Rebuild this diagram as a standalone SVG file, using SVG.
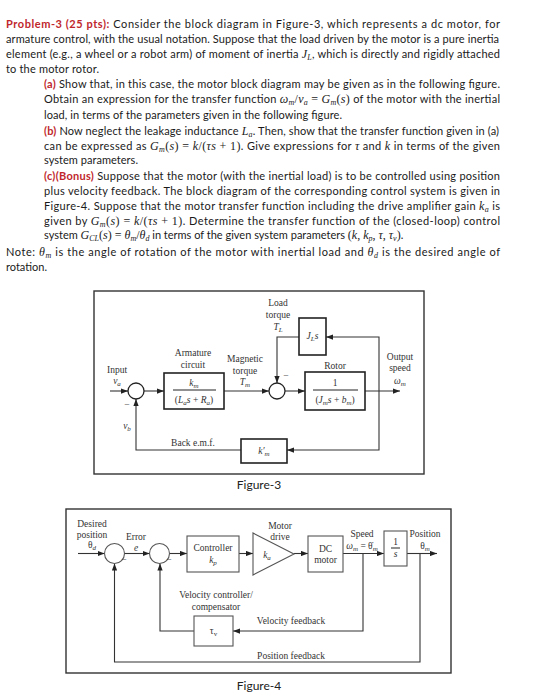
<svg xmlns="http://www.w3.org/2000/svg" width="536" height="700" viewBox="0 0 536 700">
<style>
.p{font-family:Lato,"Liberation Sans",sans-serif;font-size:11px;fill:#1a1a1a}
.r{fill:#c0272d;font-weight:bold}
.m{font-family:"Liberation Serif",serif;font-style:italic;font-size:12px}
.mu{font-family:"Liberation Serif",serif;font-style:normal;font-size:12px}
.sb{font-size:8px}
.d{font-family:"Liberation Serif",serif;font-size:9.5px;fill:#333;text-anchor:middle}
.ds{font-size:7px}
.i{font-style:italic}
.cap{font-family:Lato,"Liberation Sans",sans-serif;font-size:12px;fill:#222;text-anchor:middle}
.frame{fill:none;stroke:#333;stroke-width:1.4}
.b3{fill:#fff;stroke:#222;stroke-width:1.6}
.b4{fill:#fff;stroke:#555;stroke-width:1.1}
.c{fill:none;stroke:#333;stroke-width:1.1}
.ca{fill:none;stroke:#333;stroke-width:1.1;marker-end:url(#ah)}
.sum{fill:#fff;stroke:#222;stroke-width:1.3}
.bar{stroke:#222;stroke-width:1}
</style>
<defs>
<marker id="ah" viewBox="0 0 8 6" refX="8" refY="3" markerWidth="7" markerHeight="5.5" orient="auto" markerUnits="userSpaceOnUse"><path d="M0,0 L8,3 L0,6 z" fill="#222"/></marker>
</defs>
<rect width="536" height="700" fill="#fff"/>

<g id="problem-text" class="p">
<text x="6" y="28" textLength="494" lengthAdjust="spacing"><tspan class="r">Problem-3 (25 pts):</tspan> Consider the block diagram in Figure-3, which represents a dc motor, for</text>
<text x="6" y="43" textLength="493" lengthAdjust="spacing">armature control, with the usual notation. Suppose that the load driven by the motor is a pure inertia</text>
<text x="6" y="58" textLength="494" lengthAdjust="spacing">element (e.g., a wheel or a robot arm) of moment of inertia <tspan class="m">J</tspan><tspan class="m sb" dy="2">L</tspan><tspan dy="-2">, which is directly and rigidly attached</tspan></text>
<text x="6" y="73" textLength="93" lengthAdjust="spacing">to the motor rotor.</text>
<text x="44" y="88" textLength="456" lengthAdjust="spacing"><tspan class="r">(a)</tspan> Show that, in this case, the motor block diagram may be given as in the following figure.</text>
<text x="44" y="103" textLength="456" lengthAdjust="spacing">Obtain an expression for the transfer function <tspan class="m">ω</tspan><tspan class="m sb" dy="2">m</tspan><tspan class="mu" dy="-2">/</tspan><tspan class="m">v</tspan><tspan class="m sb" dy="2">a</tspan><tspan class="mu" dy="-2"> = </tspan><tspan class="m">G</tspan><tspan class="m sb" dy="2">m</tspan><tspan class="mu" dy="-2">(</tspan><tspan class="m">s</tspan><tspan class="mu">)</tspan> of the motor with the inertial</text>
<text x="44" y="119" textLength="298" lengthAdjust="spacing">load, in terms of the parameters given in the following figure.</text>
<text x="44" y="135" textLength="455" lengthAdjust="spacing"><tspan class="r">(b)</tspan> Now neglect the leakage inductance <tspan class="m">L</tspan><tspan class="m sb" dy="2">a</tspan><tspan dy="-2">. Then, show that the transfer function given in (a)</tspan></text>
<text x="44" y="150" textLength="456" lengthAdjust="spacing">can be expressed as <tspan class="m">G</tspan><tspan class="m sb" dy="2">m</tspan><tspan class="mu" dy="-2">(</tspan><tspan class="m">s</tspan><tspan class="mu">) = </tspan><tspan class="m">k</tspan><tspan class="mu">/(</tspan><tspan class="m">τs</tspan><tspan class="mu"> + 1)</tspan>. Give expressions for <tspan class="m">τ</tspan> and <tspan class="m">k</tspan> in terms of the given</text>
<text x="44" y="164" textLength="94" lengthAdjust="spacing">system parameters.</text>
<text x="44" y="180" textLength="456" lengthAdjust="spacing"><tspan class="r">(c)(Bonus)</tspan> Suppose that the motor (with the inertial load) is to be controlled using position</text>
<text x="44" y="195" textLength="456" lengthAdjust="spacing">plus velocity feedback. The block diagram of the corresponding control system is given in</text>
<text x="44" y="210" textLength="456" lengthAdjust="spacing">Figure-4. Suppose that the motor transfer function including the drive amplifier gain <tspan class="m">k</tspan><tspan class="m sb" dy="2">a</tspan><tspan dy="-2"> is</tspan></text>
<text x="44" y="225" textLength="456" lengthAdjust="spacing">given by <tspan class="m">G</tspan><tspan class="m sb" dy="2">m</tspan><tspan class="mu" dy="-2">(</tspan><tspan class="m">s</tspan><tspan class="mu">) = </tspan><tspan class="m">k</tspan><tspan class="mu">/(</tspan><tspan class="m">τs</tspan><tspan class="mu"> + 1)</tspan>. Determine the transfer function of the (closed-loop) control</text>
<text x="44" y="239">system <tspan class="m">G</tspan><tspan class="m sb" dy="2">CL</tspan><tspan class="mu" dy="-2">(</tspan><tspan class="m">s</tspan><tspan class="mu">) = </tspan><tspan class="m">θ</tspan><tspan class="m sb" dy="2">m</tspan><tspan class="mu" dy="-2">/</tspan><tspan class="m">θ</tspan><tspan class="m sb" dy="2">d</tspan><tspan dy="-2"> in terms of the given system parameters </tspan><tspan class="mu">(</tspan><tspan class="m">k</tspan><tspan class="mu">, </tspan><tspan class="m">k</tspan><tspan class="m sb" dy="2">p</tspan><tspan class="mu" dy="-2">, </tspan><tspan class="m">τ</tspan><tspan class="mu">, </tspan><tspan class="m">τ</tspan><tspan class="m sb" dy="2">v</tspan><tspan class="mu" dy="-2">)</tspan>.</text>
<text x="6" y="256" textLength="494" lengthAdjust="spacing">Note: <tspan class="m">θ</tspan><tspan class="m sb" dy="2">m</tspan><tspan dy="-2"> is the angle of rotation of the motor with inertial load and </tspan><tspan class="m">θ</tspan><tspan class="m sb" dy="2">d</tspan><tspan dy="-2"> is the desired angle of</tspan></text>
<text x="6" y="271">rotation.</text>
</g>

<!-- Figure 3 -->
<rect class="frame" x="94" y="291" width="330" height="183"/>
<g id="fig3-connectors">
<path class="ca" d="M110,391 H128"/>
<path class="ca" d="M144,391 H164"/>
<path class="ca" d="M224,391 H269"/>
<path class="ca" d="M285,391 H305"/>
<path class="ca" d="M365,391 H400"/>
<path class="ca" d="M299,337 H277 V383"/>
<path class="ca" d="M379,391 V337 H326"/>
<path class="ca" d="M379,391 V450 H287"/>
<path class="ca" d="M241,450 H136 V399"/>
</g>
<g id="fig3-sum1"><circle class="sum" cx="136" cy="391" r="8"/></g>
<g id="fig3-sum2"><circle class="sum" cx="277" cy="391" r="8"/></g>
<g id="fig3-armature">
<rect class="b3" x="164" y="373" width="60" height="36"/>
<line class="bar" x1="173" y1="390" x2="216" y2="390"/>
<text class="d" x="194" y="386"><tspan class="i">k</tspan><tspan class="ds i" dy="2">m</tspan></text>
<text class="d" x="194" y="403">(<tspan class="i">L</tspan><tspan class="ds i" dy="2">a</tspan><tspan class="i" dy="-2">s</tspan> + <tspan class="i">R</tspan><tspan class="ds i" dy="2">a</tspan><tspan dy="-2">)</tspan></text>
</g>
<g id="fig3-rotor">
<rect class="b3" x="305" y="372" width="60" height="38"/>
<line class="bar" x1="313" y1="390" x2="358" y2="390"/>
<text class="d" x="335" y="386">1</text>
<text class="d" x="335" y="403">(<tspan class="i">J</tspan><tspan class="ds i" dy="2">m</tspan><tspan class="i" dy="-2">s</tspan> + <tspan class="i">b</tspan><tspan class="ds i" dy="2">m</tspan><tspan dy="-2">)</tspan></text>
</g>
<g id="fig3-jl">
<rect class="b3" x="299" y="318" width="27" height="37"/>
<text class="d" x="312.5" y="339"><tspan class="i">J</tspan><tspan class="ds i" dy="2">L</tspan><tspan class="i" dy="-2">s</tspan></text>
</g>
<g id="fig3-kmp">
<rect class="b3" x="241" y="439" width="46" height="24"/>
<text class="d" x="264" y="454"><tspan class="i">k′</tspan><tspan class="ds i" dy="2">m</tspan></text>
</g>
<g id="fig3-labels" class="d">
<text x="117" y="373">Input</text>
<text x="117" y="384"><tspan class="i">v</tspan><tspan class="ds i" dy="2">a</tspan></text>
<text x="127" y="408">−</text>
<text x="127" y="429"><tspan class="i">v</tspan><tspan class="ds i" dy="2">b</tspan></text>
<text x="193" y="446">Back e.m.f.</text>
<text x="193" y="356">Armature</text>
<text x="193" y="368">circuit</text>
<text x="245" y="362">Magnetic</text>
<text x="245" y="374">torque</text>
<text x="245" y="385"><tspan class="i">T</tspan><tspan class="ds i" dy="2">m</tspan></text>
<text x="278" y="306">Load</text>
<text x="278" y="318">torque</text>
<text x="278" y="330"><tspan class="i">T</tspan><tspan class="ds i" dy="2">L</tspan></text>
<text x="286" y="379">−</text>
<text x="335" y="369">Rotor</text>
<text x="400" y="360">Output</text>
<text x="400" y="371">speed</text>
<text x="400" y="384"><tspan class="i">ω</tspan><tspan class="ds i" dy="2">m</tspan></text>
</g>
<text class="cap" x="259" y="489">Figure-3</text>

<!-- Figure 4 -->
<rect class="frame" x="66" y="509" width="385" height="164"/>
<g id="fig4-connectors">
<path class="ca" d="M78,553.5 H104.5"/>
<path class="ca" d="M124.5,553.5 H149.5"/>
<path class="ca" d="M169.5,553.5 H187"/>
<path class="ca" d="M239,553.5 H253"/>
<path class="ca" d="M294,553.5 H308"/>
<path class="ca" d="M343,553.5 H384"/>
<path class="ca" d="M407,553.5 H437"/>
<path class="ca" d="M363,553.5 V631 H233"/>
<path class="ca" d="M194,631 H160 V563.5"/>
<path class="ca" d="M420,553.5 V662 H114.5 V563.5"/>
</g>
<g id="fig4-sum1"><circle class="b4" cx="114.5" cy="553.5" r="10"/></g>
<g id="fig4-sum2"><circle class="b4" cx="159.5" cy="553.5" r="10"/></g>
<g id="fig4-controller">
<rect class="b4" x="187" y="536" width="52" height="36"/>
<text class="d" x="213" y="551">Controller</text>
<text class="d" x="213" y="563"><tspan class="i">k</tspan><tspan class="ds i" dy="2">p</tspan></text>
</g>
<g id="fig4-drive">
<polygon class="b4" points="253,533 253,575 294,554"/>
<text class="d" x="267" y="558"><tspan class="i">k</tspan><tspan class="ds i" dy="2">a</tspan></text>
</g>
<g id="fig4-dcmotor">
<rect class="b4" x="308" y="536" width="35" height="36"/>
<text class="d" x="325.5" y="552">DC</text>
<text class="d" x="325.5" y="563">motor</text>
</g>
<g id="fig4-integrator">
<rect class="b4" x="384" y="531" width="23" height="35"/>
<text class="d" x="395.5" y="545">1</text>
<line class="bar" x1="391" y1="548" x2="400" y2="548"/>
<text class="d" x="395.5" y="557"><tspan class="i">s</tspan></text>
</g>
<g id="fig4-tauv">
<rect class="b4" x="194" y="616" width="39" height="30"/>
<text class="d" x="213.5" y="634">τ<tspan class="ds" dy="2">v</tspan></text>
</g>
<g id="fig4-labels" class="d">
<text x="92" y="527">Desired</text>
<text x="92" y="537.5">position</text>
<text x="92" y="548">θ<tspan class="ds i" dy="2">d</tspan></text>
<text x="136" y="540">Error</text>
<text x="136" y="551"><tspan class="i">e</tspan></text>
<text x="124" y="563">−</text>
<text x="169" y="563">−</text>
<text x="280" y="529">Motor</text>
<text x="280" y="540">drive</text>
<text x="362" y="537">Speed</text>
<text x="362" y="549"><tspan class="i">ω</tspan><tspan class="ds i" dy="2">m</tspan><tspan dy="-2"> = θ̇</tspan><tspan class="ds i" dy="2">m</tspan></text>
<text x="425" y="537">Position</text>
<text x="425" y="549">θ<tspan class="ds i" dy="2">m</tspan></text>
<text x="216" y="598">Velocity controller/</text>
<text x="216" y="610">compensator</text>
<text x="291" y="624">Velocity feedback</text>
<text x="291" y="659">Position feedback</text>
</g>
<text class="cap" x="259" y="690">Figure-4</text>
</svg>
